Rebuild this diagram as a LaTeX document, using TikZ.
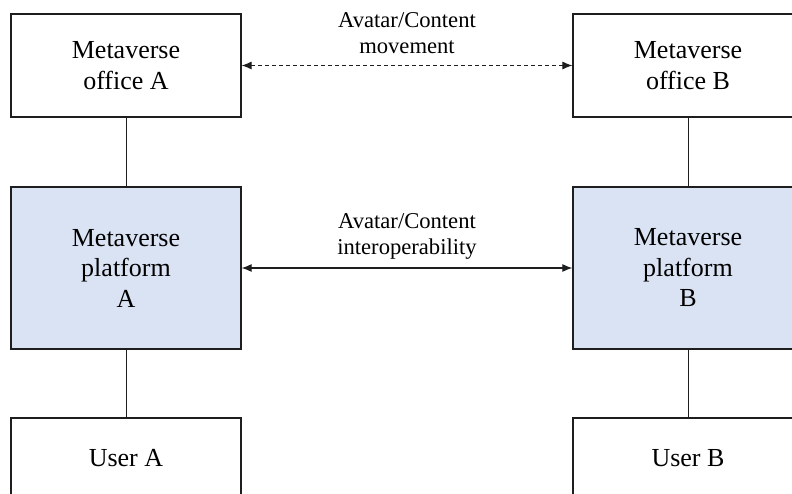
\documentclass[tikz,border=0pt]{standalone}
\usepackage{fontspec}
\setmainfont{Liberation Serif}
\usetikzlibrary{arrows.meta}
\definecolor{platformfill}{HTML}{DAE3F3}
\definecolor{edge}{HTML}{1E1E1E}
\tikzset{
  x=1pt, y=-1pt,
  box/.style={draw=edge, line width=1.3pt, minimum width=230pt, inner sep=0pt,
    align=center, font=\fontsize{26}{30.5}\selectfont},
  platform/.style={box, fill=platformfill, minimum height=162pt},
  office/.style={box, minimum height=103pt},
  userbox/.style={box, minimum height=80pt},
  link/.style={draw=edge, line width=0.9pt},
  flow/.style={link, {Latex[length=10pt,width=8pt]}-{Latex[length=10pt,width=8pt]}},
  lbl/.style={align=center, inner sep=0pt, font=\fontsize{22.6}{26}\selectfont}
}
\begin{document}
\begin{tikzpicture}
\clip (0,0) rectangle (792,494);
\fill[white] (0,0) rectangle (792,494);

% left column
\node[office]   (oa) at (126,65.5) {Metaverse\\office A};
\node[platform] (pa) at (126,268)  {Metaverse\\platform\\A};
\node[userbox]  (ua) at (126,458)  {User A};

% right column
\node[office]   (ob) at (688,65.5) {Metaverse\\office B};
\node[platform] (pb) at (688,268)  {Metaverse\\platform\\B};
\node[userbox]  (ub) at (688,458)  {User B};

% vertical links
\draw[link] (oa.south) -- (pa.north);
\draw[link] (pa.south) -- (ua.north);
\draw[link] (ob.south) -- (pb.north);
\draw[link] (pb.south) -- (ub.north);

% horizontal relations
\draw[flow, dash pattern=on 4pt off 3pt] (oa.east) -- (ob.west);
\draw[flow, line width=1.1pt] (pa.east) -- (pb.west);

\node[lbl] (lmove) at (407,33)  {Avatar/Content\\movement};
\node[lbl] (linter) at (407,236) {Avatar/Content\\interoperability};
\end{tikzpicture}
\end{document}
